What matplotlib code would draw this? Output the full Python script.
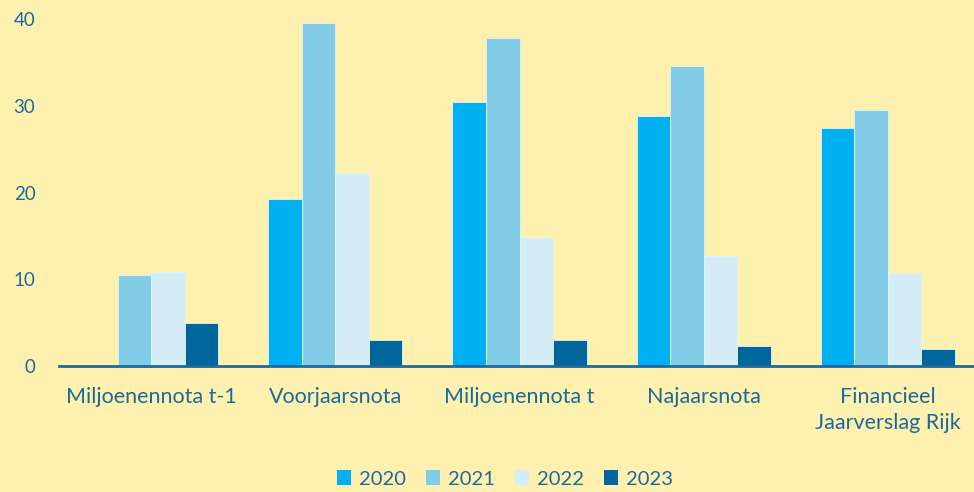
import matplotlib
matplotlib.use("Agg")
import matplotlib.pyplot as plt
import numpy as np
from matplotlib.patches import Patch

categories = ["Miljoenennota t-1", "Voorjaarsnota", "Miljoenennota t", "Najaarsnota", "Financieel\nJaarverslag Rijk"]
years = ["2020", "2021", "2022", "2023"]
v2020 = [0.0, 19.2, 30.4, 28.8, 27.4]
v2021 = [10.5, 39.5, 37.8, 34.6, 29.5]
v2022 = [10.85, 22.2, 14.8, 12.7, 10.7]
v2023 = [5.0, 3.0, 3.0, 2.3, 2.0]
series = [v2020, v2021, v2022, v2023]
colors = ["#00B0F0", "#83CCE8", "#D4EDF7", "#00669C"]
yticks = [0, 10, 20, 30, 40]

bg = "#FEF1B0"
txt = "#1B6A9C"

plt.rcParams['font.family'] = ['Lato', 'DejaVu Sans']

fig = plt.figure(figsize=(9.74, 4.92), dpi=100, facecolor=bg)
ax = fig.add_axes([59/974, (492-366)/492, (974-59)/974, (366-19)/492])
ax.set_facecolor(bg)

x = np.arange(len(categories))
w = 0.182
for i, (vals, c) in enumerate(zip(series, colors)):
    ax.bar(x + (i - 1.5) * w, vals, width=w, color=c, edgecolor="#E6F2F2", linewidth=0.6, label=years[i], zorder=2)

ax.set_xlim(-0.5, 4.467)
ax.set_ylim(0, 40)
ax.set_yticks(yticks)
ax.set_xticks(x)
ax.set_xticklabels(categories, fontsize=15.5, color=txt, linespacing=1.4)
ax.tick_params(axis='y', length=0, pad=17, labelsize=13.5, labelcolor=txt)
ax.tick_params(axis='x', length=0, pad=15)
for s in ["top", "right", "left"]:
    ax.spines[s].set_visible(False)
ax.spines["bottom"].set_color("#1B6A9C")
ax.spines["bottom"].set_linewidth(2)
ax.spines["bottom"].set_zorder(3)

handles = [Patch(facecolor=c, edgecolor='none') for c in colors]
fig.legend(handles, years, loc="center", bbox_to_anchor=(505/974, 1 - 479/492), ncol=4,
           frameon=False, fontsize=14.5, labelcolor=txt, handlelength=0.7, handleheight=0.7,
           handletextpad=0.4, columnspacing=1.0)

fig.savefig("out.png", dpi=100, facecolor=bg)
